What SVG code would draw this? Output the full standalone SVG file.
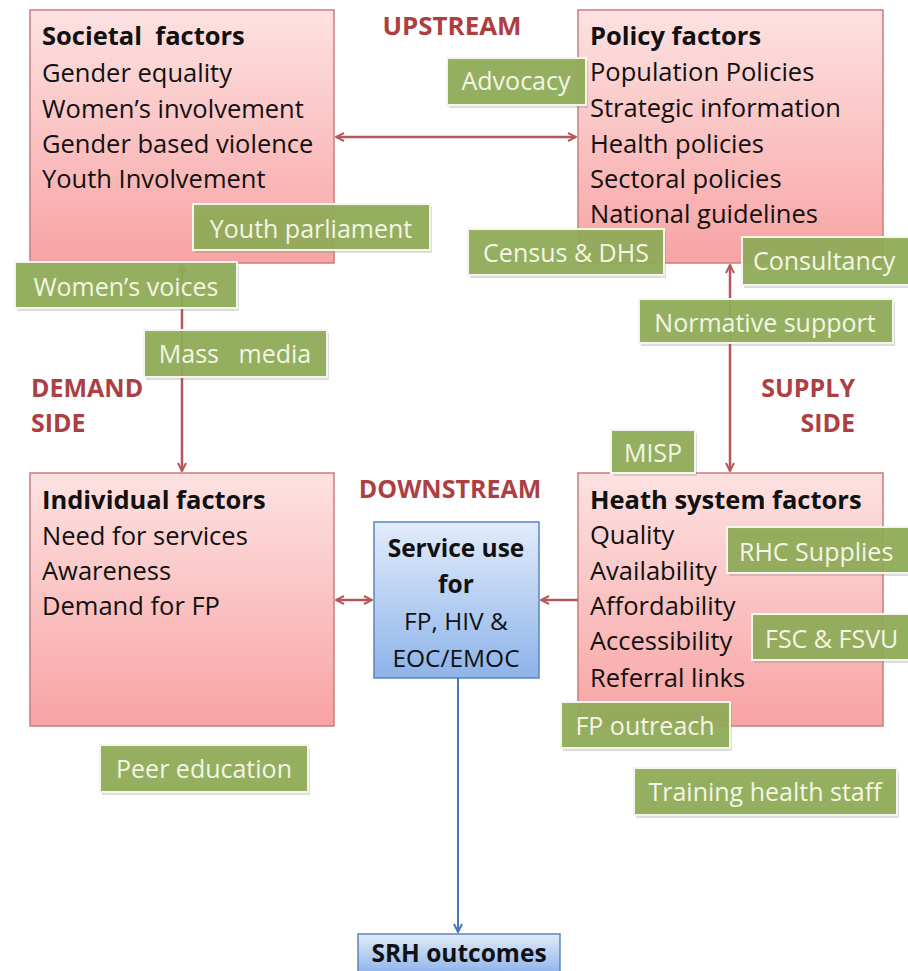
<svg xmlns="http://www.w3.org/2000/svg" width="908" height="971" viewBox="0 0 908 971">
<defs>
<linearGradient id="pink" x1="0" y1="0" x2="0" y2="1">
<stop offset="0" stop-color="#fde2e2"/>
<stop offset="1" stop-color="#f8a3a3"/>
</linearGradient>
<linearGradient id="blue" x1="0" y1="0" x2="0" y2="1">
<stop offset="0" stop-color="#e2ecfa"/>
<stop offset="1" stop-color="#8db3ea"/>
</linearGradient>
<marker id="ar" viewBox="0 0 10 10" refX="9" refY="5" markerWidth="10" markerHeight="10" markerUnits="userSpaceOnUse" orient="auto-start-reverse">
<path d="M1,1 L9,5 L1,9" fill="none" stroke="#b5575a" stroke-width="2"/>
</marker>
<marker id="ab" viewBox="0 0 10 10" refX="9" refY="5" markerWidth="10" markerHeight="10" markerUnits="userSpaceOnUse" orient="auto">
<path d="M1,1 L9,5 L1,9" fill="none" stroke="#4a76b4" stroke-width="2"/>
</marker>
</defs>
<style>
.pbox{fill:url(#pink);stroke:#c77e7c;stroke-width:1.5}
.bbox{fill:url(#blue);stroke:#5b84bd;stroke-width:1.5}
.t{font-family:"Open Sans","Liberation Sans",sans-serif;font-size:25.5px;fill:#111;white-space:pre}
.b{font-weight:bold}
.c{text-anchor:middle}
.sv{font-size:24.5px}
.lab{font-family:"Open Sans","Liberation Sans",sans-serif;font-size:25px;font-weight:bold;fill:#ad3f42}
.g rect.s{fill:#777;opacity:0.25}
.g rect.f{fill:#8fab57;fill-opacity:0.93;stroke:#f4f6ec;stroke-width:2}
.g text{font-family:"Open Sans","Liberation Sans",sans-serif;font-size:25px;fill:#f4f5e4;white-space:pre}
.ln{stroke:#b5575a;stroke-width:2.5;fill:none}
.lb{stroke:#4a76b4;stroke-width:2;fill:none}
</style>
<rect width="908" height="971" fill="#fff"/>

<g id="societal">
<rect class="pbox" x="30" y="10" width="304" height="253"/>
<text class="t b" x="42" y="45">Societal  factors</text>
<text class="t" x="42" y="82">Gender equality</text>
<text class="t" x="42" y="118">Women’s involvement</text>
<text class="t" x="42" y="153">Gender based violence</text>
<text class="t" x="42" y="188">Youth Involvement</text>
</g>
<g id="policy">
<rect class="pbox" x="578" y="10" width="305" height="253"/>
<text class="t b" x="590" y="45">Policy factors</text>
<text class="t" x="590" y="81">Population Policies</text>
<text class="t" x="590" y="117">Strategic information</text>
<text class="t" x="590" y="153">Health policies</text>
<text class="t" x="590" y="188">Sectoral policies</text>
<text class="t" x="590" y="223">National guidelines</text>
</g>
<g id="individual">
<rect class="pbox" x="30" y="473" width="304" height="253"/>
<text class="t b" x="42" y="509">Individual factors</text>
<text class="t" x="42" y="545">Need for services</text>
<text class="t" x="42" y="580">Awareness</text>
<text class="t" x="42" y="615">Demand for FP</text>
</g>
<g id="health">
<rect class="pbox" x="578" y="473" width="305" height="253"/>
<text class="t b" x="590" y="509">Heath system factors</text>
<text class="t" x="590" y="544">Quality</text>
<text class="t" x="590" y="580">Availability</text>
<text class="t" x="590" y="615">Affordability</text>
<text class="t" x="590" y="650">Accessibility</text>
<text class="t" x="590" y="687">Referral links</text>
</g>
<g id="service">
<rect class="bbox" x="374" y="522" width="165" height="156"/>
<text class="t sv b c" x="456" y="557">Service use</text>
<text class="t sv b c" x="456" y="593">for</text>
<text class="t sv c" x="456" y="630">FP, HIV &amp;</text>
<text class="t sv c" x="456" y="667">EOC/EMOC</text>
</g>
<g id="srh">
<rect class="bbox" x="358" y="934" width="202" height="40"/>
<text class="t sv b c" x="459" y="962">SRH outcomes</text>
</g>

<g id="connectors">
<line class="ln" x1="336" y1="137" x2="576" y2="137" marker-start="url(#ar)" marker-end="url(#ar)"/>
<line class="ln" x1="182" y1="265" x2="182" y2="471" marker-start="url(#ar)" marker-end="url(#ar)"/>
<line class="ln" x1="730" y1="265" x2="730" y2="471" marker-start="url(#ar)" marker-end="url(#ar)"/>
<line class="ln" x1="336" y1="600" x2="372" y2="600" marker-start="url(#ar)" marker-end="url(#ar)"/>
<line class="ln" x1="578" y1="600" x2="541" y2="600" marker-end="url(#ar)"/>
<line class="lb" x1="458" y1="678" x2="458" y2="932" marker-end="url(#ab)"/>
</g>

<g id="advocacy" class="g"><rect class="s" x="449" y="61" width="139" height="47"/><rect class="f" x="447" y="58" width="139" height="47"/><text x="516" y="90" text-anchor="middle">Advocacy</text></g>
<g id="youth-parliament" class="g"><rect class="s" x="195" y="207" width="237" height="46"/><rect class="f" x="193" y="204" width="237" height="46"/><text x="311" y="238" text-anchor="middle">Youth parliament</text></g>
<g id="womens-voices" class="g"><rect class="s" x="17" y="265" width="222" height="46"/><rect class="f" x="15" y="262" width="222" height="46"/><text x="126" y="296" text-anchor="middle">Women’s voices</text></g>
<g id="mass-media" class="g"><rect class="s" x="146" y="333" width="183" height="47"/><rect class="f" x="144" y="330" width="183" height="47"/><text x="235" y="363" text-anchor="middle">Mass   media</text></g>
<g id="census" class="g"><rect class="s" x="470" y="232" width="196" height="46"/><rect class="f" x="468" y="229" width="196" height="46"/><text x="566" y="262" text-anchor="middle">Census &amp; DHS</text></g>
<g id="consultancy" class="g"><rect class="s" x="744" y="240" width="170" height="48"/><rect class="f" x="742" y="237" width="170" height="48"/><text x="753" y="270">Consultancy</text></g>
<g id="normative" class="g"><rect class="s" x="641" y="302" width="254" height="44"/><rect class="f" x="639" y="299" width="254" height="44"/><text x="765" y="332" text-anchor="middle">Normative support</text></g>
<g id="misp" class="g"><rect class="s" x="613" y="433" width="84" height="43"/><rect class="f" x="611" y="430" width="84" height="43"/><text x="653" y="462" text-anchor="middle">MISP</text></g>
<g id="rhc" class="g"><rect class="s" x="729" y="530" width="185" height="46"/><rect class="f" x="727" y="527" width="185" height="46"/><text x="739" y="561">RHC Supplies</text></g>
<g id="fsc" class="g"><rect class="s" x="754" y="617" width="160" height="46"/><rect class="f" x="752" y="614" width="160" height="46"/><text x="765" y="648">FSC &amp; FSVU</text></g>
<g id="fp-outreach" class="g"><rect class="s" x="563" y="705" width="169" height="46"/><rect class="f" x="561" y="702" width="169" height="46"/><text x="645" y="735" text-anchor="middle">FP outreach</text></g>
<g id="peer" class="g"><rect class="s" x="102" y="748" width="208" height="47"/><rect class="f" x="100" y="745" width="208" height="47"/><text x="204" y="778" text-anchor="middle">Peer education</text></g>
<g id="training" class="g"><rect class="s" x="636" y="771" width="263" height="47"/><rect class="f" x="634" y="768" width="263" height="47"/><text x="765" y="801" text-anchor="middle">Training health staff</text></g>

<g id="labels">
<text class="lab" x="452" y="35" text-anchor="middle" textLength="139" lengthAdjust="spacingAndGlyphs">UPSTREAM</text>
<text class="lab" x="31" y="397">DEMAND</text>
<text class="lab" x="31" y="432">SIDE</text>
<text class="lab" x="450" y="498" text-anchor="middle">DOWNSTREAM</text>
<text class="lab" x="855" y="397" text-anchor="end">SUPPLY</text>
<text class="lab" x="855" y="432" text-anchor="end">SIDE</text>
</g>
</svg>
